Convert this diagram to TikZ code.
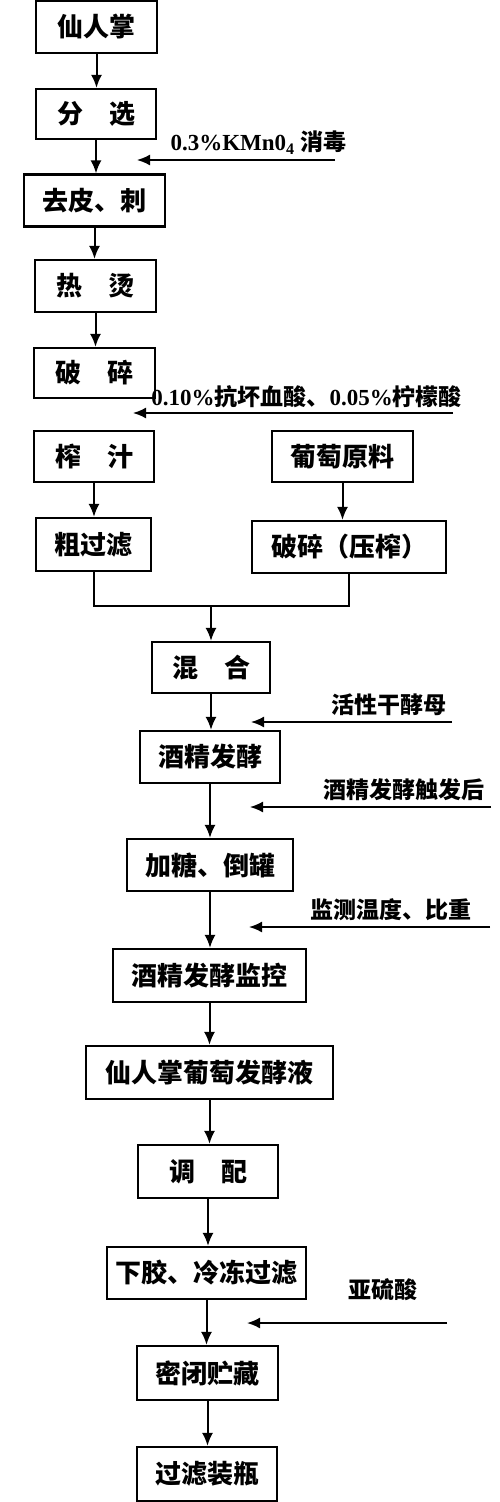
\documentclass[tikz,border=0pt]{standalone}
\usepackage{fontspec}
\setmainfont{Liberation Serif}
\newfontfamily\cjk{Noto Sans CJK SC}
\usetikzlibrary{arrows.meta}
\tikzset{
  box/.style={draw, line width=2.2pt, inner sep=0pt, minimum height=52pt,
    font=\cjk\bfseries\fontsize{26}{30}\selectfont},
  note/.style={inner sep=0pt, font=\bfseries\fontsize{23}{27}\selectfont},
  flow/.style={line width=2pt, -{Latex[length=13pt,width=11pt]}},
  feed/.style={line width=1.8pt, -{Latex[length=13pt,width=11pt]}}
}
\newcommand{\gap}{\hspace{1em}}

\begin{document}
\begin{tikzpicture}[x=1pt,y=-1pt]
\useasboundingbox (0,0) rectangle (500,1502);

% cactus line
\node [box, minimum width=121pt] (xrz) at (96.5,27) {仙人掌};
\node [box, minimum width=120pt, minimum height=50pt] (fx) at (96,114) {分\gap 选};
\node [box, minimum width=141pt] (qp) at (94.5,200.5) {去皮、刺};
\node [box, minimum width=121pt] (rt) at (95.5,286) {热\gap 烫};
\node [box, minimum width=121pt, minimum height=50pt] (ps) at (94.5,373) {破\gap 碎};
\node [box, minimum width=120pt, minimum height=51pt] (zz) at (94,456.5) {榨\gap 汁};
\node [box, minimum width=115pt, minimum height=53pt] (cgl) at (93.5,544.5) {粗过滤};

% grape line
\node [box, minimum width=141pt, minimum height=51pt] (pt) at (342.5,456.5) {葡萄原料};
\node [box, minimum width=194pt] (pz) at (349,547) {破碎（压榨）};

% after mixing
\node [box, minimum width=118pt, minimum height=51pt] (hh) at (211,667.5) {混\gap 合};
\node [box, minimum width=140pt] (jj) at (210,757) {酒精发酵};
\node [box, minimum width=166pt] (jt) at (210,865) {加糖、倒罐};
\node [box, minimum width=193pt, minimum height=53pt] (jk) at (209.5,975.5) {酒精发酵监控};
\node [box, minimum width=247pt, minimum height=53pt] (fjy) at (209.5,1072.5) {仙人掌葡萄发酵液};
\node [box, minimum width=140pt, minimum height=53pt] (tp) at (208,1171.5) {调\gap 配};
\node [box, minimum width=199pt] (xj) at (206.5,1273) {下胶、冷冻过滤};
\node [box, minimum width=141pt, minimum height=54pt] (mb) at (207.5,1373) {密闭贮藏};
\node [box, minimum width=140pt, minimum height=54pt] (gl) at (207,1474) {过滤装瓶};

\draw [flow] (xrz.south) -- (xrz.south |- fx.north);
\draw [flow] (fx.south) -- (fx.south |- qp.north);
\draw [flow] (qp.south) -- (qp.south |- rt.north);
\draw [flow] (rt.south) -- (rt.south |- ps.north);
\draw [flow] (zz.south) -- (zz.south |- cgl.north);
\draw [flow] (pt.south) -- (pt.south |- pz.north);

\coordinate (join) at (211,606);
\draw [line width=2pt] (cgl.south) |- (join) -| (pz.south);
\draw [flow] (join) -- (hh.north);

\draw [flow] (hh.south) -- (hh.south |- jj.north);
\draw [flow] (jj.south) -- (jj.south |- jt.north);
\draw [flow] (jt.south) -- (jt.south |- jk.north);
\draw [flow] (jk.south) -- (jk.south |- fjy.north);
\draw [flow] (fjy.south) -- (fjy.south |- tp.north);
\draw [flow] (tp.south) -- (tp.south |- xj.north);
\draw [flow] (xj.south) -- (xj.south |- mb.north);
\draw [flow] (mb.south) -- (mb.south |- gl.north);

% additions from the right
\node [note] (kmno) at (258.5,143) {0.3\%KMn0\textsubscript{4} {\cjk 消毒}};
\coordinate (kmno0) at (335,160);  \coordinate (kmno1) at (137,160);
\draw [feed] (kmno0) -- (kmno1);

\node [note] (vc) at (306.5,397) {0.10\%{\cjk 抗坏血酸、}0.05\%{\cjk 柠檬酸}};
\coordinate (vc0) at (453,413);  \coordinate (vc1) at (133,413);
\draw [feed] (vc0) -- (vc1);

\node [note, font=\cjk\bfseries\fontsize{23}{27}\selectfont] (yeast) at (388.5,705) {活性干酵母};
\coordinate (yeast0) at (452,722);  \coordinate (yeast1) at (251,722);
\draw [feed] (yeast0) -- (yeast1);

\node [note, font=\cjk\bfseries\fontsize{23}{27}\selectfont] (start) at (403.5,790) {酒精发酵触发后};
\coordinate (start0) at (491,807);  \coordinate (start1) at (250,807);
\draw [feed] (start0) -- (start1);

\node [note, font=\cjk\bfseries\fontsize{23}{27}\selectfont] (temp) at (390.5,910) {监测温度、比重};
\coordinate (temp0) at (490,927);  \coordinate (temp1) at (249,927);
\draw [feed] (temp0) -- (temp1);

\node [note, font=\cjk\bfseries\fontsize{23}{27}\selectfont] (so2) at (382.5,1290) {亚硫酸};
\coordinate (so20) at (447,1323);  \coordinate (so21) at (247,1323);
\draw [feed] (so20) -- (so21);
\end{tikzpicture}
\end{document}
